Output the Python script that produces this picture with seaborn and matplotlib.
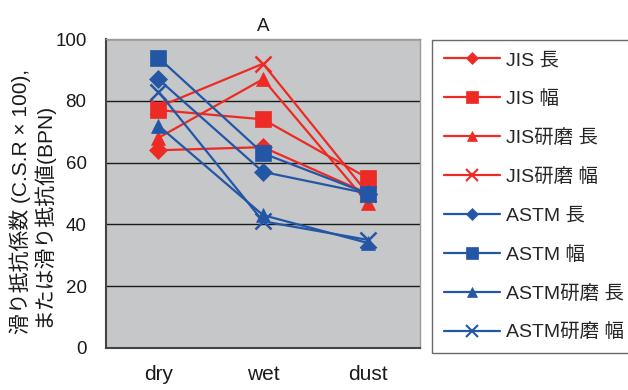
import matplotlib
matplotlib.use("Agg")
import matplotlib.pyplot as plt
import seaborn as sns
import pandas as pd
from matplotlib.lines import Line2D

conditions = ["dry", "wet", "dust"]
series_names = ["JIS 長", "JIS 幅", "JIS研磨 長", "JIS研磨 幅",
                "ASTM 長", "ASTM 幅", "ASTM研磨 長", "ASTM研磨 幅"]
jis_len = [64, 65, 50]
jis_wid = [77, 74, 55]
jis_pol_len = [68, 87, 47]
jis_pol_wid = [78, 92, 50]
astm_len = [87, 57, 50]
astm_wid = [94, 63, 50]
astm_pol_len = [72, 43, 34]
astm_pol_wid = [83, 41, 35]
values = [jis_len, jis_wid, jis_pol_len, jis_pol_wid,
          astm_len, astm_wid, astm_pol_len, astm_pol_wid]
ylabel_lines = ["滑り抵抗係数 (C.S.R × 100),", "または滑り抵抗値(BPN)"]

RED = "#EE2A24"
BLUE = "#2357A6"
colors = [RED] * 4 + [BLUE] * 4
markers = ["D", "s", "^", "x"] * 2
msizes = [9, 11, 10, 11] * 2
lsizes = [6, 8, 7, 8] * 2

sns.set_theme(style="white")
plt.rcParams["font.family"] = ["Liberation Sans", "Noto Sans CJK JP", "DejaVu Sans"]

fig = plt.figure(figsize=(6.28, 3.90), dpi=100)
ax = fig.add_axes([106 / 628, 1 - 348 / 390, 314 / 628, 309 / 390])
ax.set_facecolor("#C6C7C9")

rows = []
for name, vals in zip(series_names, values):
    for c, v in zip(conditions, vals):
        rows.append({"cond": c, "val": v, "series": name})
df = pd.DataFrame(rows)

for i, name in enumerate(series_names):
    sub = df[df["series"] == name]
    sns.lineplot(data=sub, x="cond", y="val", ax=ax, color=colors[i],
                 marker=markers[i], markersize=msizes[i], linewidth=1.6,
                 markeredgecolor=colors[i], markeredgewidth=1.8 if markers[i] == "x" else 0.5,
                 legend=False, zorder=3 + i)

ax.set_xlim(-0.5, 2.5)
ax.set_ylim(0, 100)
ax.set_yticks([0, 20, 40, 60, 80, 100])
ax.set_xticks([0, 1, 2])
ax.set_xticklabels(conditions)
ax.yaxis.grid(True, color="#1a1a1a", linewidth=1.0)
ax.set_axisbelow(True)
ax.tick_params(axis="both", colors="#1a1a1a", length=0)
ax.tick_params(axis="y", pad=14, labelsize=13.5)
ax.tick_params(axis="x", pad=12, labelsize=15)
ax.set_xticks([0.5, 1.5], minor=True)
ax.tick_params(axis="x", which="minor", direction="in", length=5, color="#333333", width=1)

for s in ["left", "bottom"]:
    ax.spines[s].set_color("#444444")
    ax.spines[s].set_linewidth(1.5)
for s in ["top", "right"]:
    ax.spines[s].set_color("#9a9a9a")
    ax.spines[s].set_linewidth(1.0)

ax.set_xlabel("")
ax.set_ylabel("")
fig.text(20 / 628, 1 - 202 / 390, ylabel_lines[0], rotation=90, fontsize=15,
         ha="center", va="center", color="#1a1a1a")
fig.text(42 / 628, 1 - 215 / 390, ylabel_lines[1], rotation=90, fontsize=15,
         ha="center", va="center", color="#1a1a1a")
ax.set_title("A", fontsize=13.5, pad=6, color="#1a1a1a")

handles = [Line2D([0], [0], color=colors[i], marker=markers[i], markersize=lsizes[i],
                  markeredgewidth=1.5 if markers[i] == "x" else 0.5,
                  markeredgecolor=colors[i], linewidth=1.6)
           for i in range(8)]
leg = fig.legend(handles, series_names, loc="upper left",
                 bbox_to_anchor=(432 / 628, 1 - 40 / 390), fontsize=14,
                 frameon=True, fancybox=False, edgecolor="#444444",
                 handlelength=2.9, labelspacing=1.08, borderpad=0.6,
                 handletextpad=0.28, borderaxespad=0)
leg.get_frame().set_linewidth(1.0)

fig.savefig("out.png", dpi=100)
